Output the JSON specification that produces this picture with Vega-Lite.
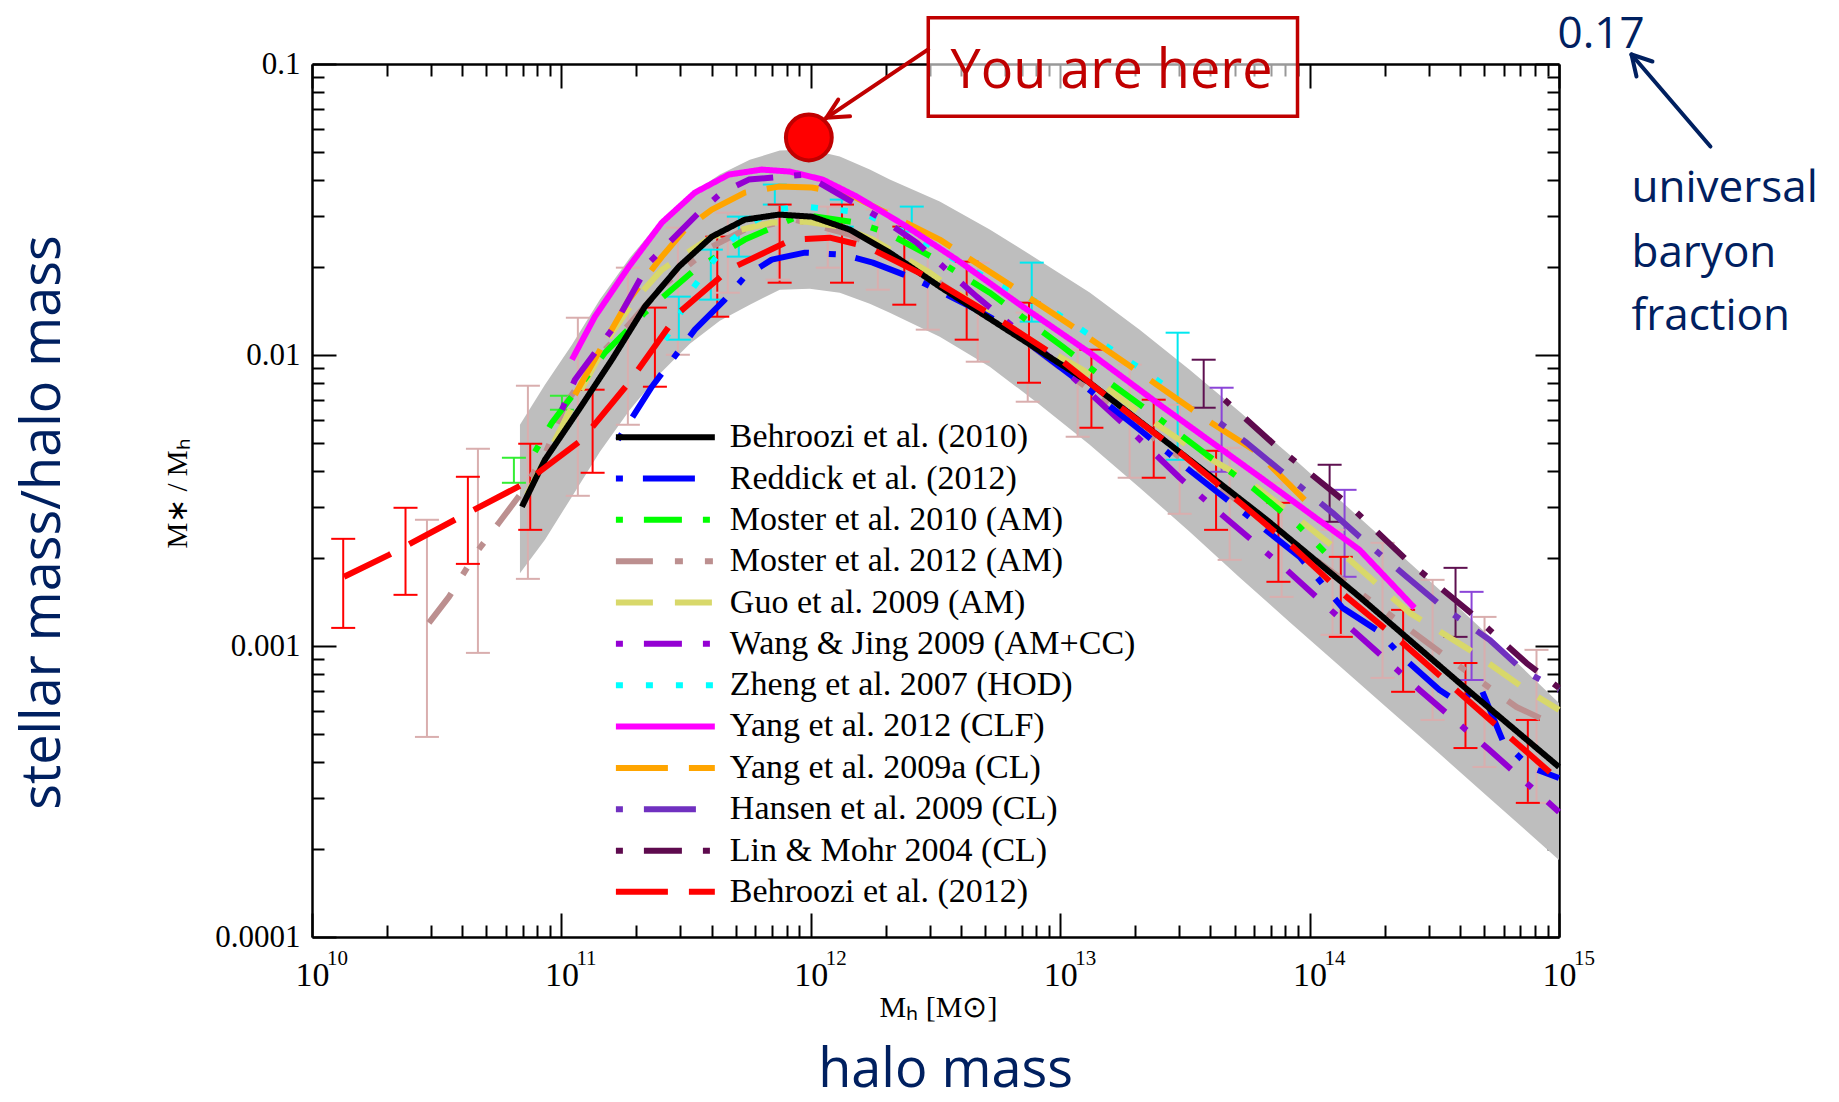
{
"$schema": "https://vega.github.io/schema/vega-lite/v6.json",
"width": 1247, "height": 873,
"autosize": {"type": "none"},
"padding": {"left": 312, "top": 64, "right": 280, "bottom": 165},
"background": "white",
"config": {
  "view": {"stroke": null},
  "axis": {"grid": false, "domain": false, "tickColor": "black", "tickWidth": 2, "labelFont": "Liberation Serif", "labelColor": "black", "labelFlush": false, "labelOverlap": false, "zindex": 1, "titleFontWeight": "normal", "titleColor": "black", "titleFont": "Liberation Serif"}
},
"datasets": {
  "band": [
    {"x":6.82e10,"lo":0.00178,"hi":0.00576},{"x":8.59e10,"lo":0.00232,"hi":0.00791},{"x":1.102e11,"lo":0.00326,"hi":0.01085},{"x":1.427e11,"lo":0.00465,"hi":0.0155},{"x":1.882e11,"lo":0.00649,"hi":0.0216},{"x":2.482e11,"lo":0.00862,"hi":0.0287},{"x":3.273e11,"lo":0.01094,"hi":0.0356},{"x":4.318e11,"lo":0.01312,"hi":0.0417},{"x":5.694e11,"lo":0.01489,"hi":0.0469},{"x":7.51e11,"lo":0.01677,"hi":0.0504},{"x":9.91e11,"lo":0.0169,"hi":0.0508},{"x":1.307e12,"lo":0.01637,"hi":0.0481},{"x":1.724e12,"lo":0.01501,"hi":0.0434},{"x":2.073e12,"lo":0.01398,"hi":0.0401},{"x":3.289e12,"lo":0.01156,"hi":0.0337},{"x":5.218e12,"lo":0.00912,"hi":0.027},{"x":8.28e12,"lo":0.00675,"hi":0.0211},{"x":1.313e13,"lo":0.00492,"hi":0.0164},{"x":2.083e13,"lo":0.0035,"hi":0.0122},{"x":3.304e13,"lo":0.00247,"hi":0.0089},{"x":5.242e13,"lo":0.00172,"hi":0.00638},{"x":8.31e13,"lo":0.00121,"hi":0.00454},{"x":1.319e14,"lo":0.000854,"hi":0.00318},{"x":2.092e14,"lo":0.000603,"hi":0.00223},{"x":3.319e14,"lo":0.000426,"hi":0.00156},{"x":5.265e14,"lo":0.0003,"hi":0.00108},{"x":1e15,"lo":0.000184,"hi":0.000637}
  ],
  "ebars": [
    {"g":"brown","x":2.89e10,"lo":0.000487,"hi":0.002715},{"g":"brown","x":4.627e10,"lo":0.000947,"hi":0.004762},{"g":"brown","x":7.34e10,"lo":0.001701,"hi":0.007842},{"g":"brown","x":1.164e11,"lo":0.003282,"hi":0.01343},{"g":"brown","x":1.847e11,"lo":0.005758,"hi":0.01996},{"g":"brown","x":2.931e11,"lo":0.01002,"hi":0.0274},{"g":"brown","x":4.649e11,"lo":0.01637,"hi":0.03085},{"g":"brown","x":7.372e11,"lo":0.01815,"hi":0.03288},{"g":"brown","x":1.17e12,"lo":0.01996,"hi":0.03236},{"g":"brown","x":1.856e12,"lo":0.01677,"hi":0.0316},{"g":"brown","x":2.944e12,"lo":0.01222,"hi":0.02492},{"g":"brown","x":4.671e12,"lo":0.009484,"hi":0.02077},{"g":"brown","x":7.41e12,"lo":0.00691,"hi":0.01398},{"g":"brown","x":1.175e13,"lo":0.005237,"hi":0.01043},{"g":"brown","x":1.899e13,"lo":0.003786,"hi":0.009262},{"g":"brown","x":3.013e13,"lo":0.002846,"hi":0.006748},{"g":"brown","x":4.779e13,"lo":0.001977,"hi":0.0048},{"g":"brown","x":7.722e13,"lo":0.001475,"hi":0.003638},{"g":"brown","x":1.236e14,"lo":0.001092,"hi":0.002507},{"g":"brown","x":1.961e14,"lo":0.000777,"hi":0.002262},{"g":"brown","x":3.112e14,"lo":0.000557,"hi":0.001688},{"g":"brown","x":5.028e14,"lo":0.000384,"hi":0.001259},{"g":"brown","x":8.124e14,"lo":0.000289,"hi":0.00097},
    {"g":"green","x":6.45e10,"lo":0.003638,"hi":0.004435},{"g":"green","x":1.005e11,"lo":0.006485,"hi":0.007244},
    {"g":"cyan","x":2.957e11,"lo":0.01129,"hi":0.01587},{"g":"cyan","x":3.973e11,"lo":0.0155,"hi":0.02302},{"g":"cyan","x":5.145e11,"lo":0.02178,"hi":0.02989},{"g":"cyan","x":7.173e11,"lo":0.03288,"hi":0.03852},{"g":"cyan","x":1.331e12,"lo":0.02762,"hi":0.0342},{"g":"cyan","x":2.54e12,"lo":0.02655,"hi":0.03236},{"g":"cyan","x":7.689e12,"lo":0.01302,"hi":0.02077},{"g":"cyan","x":2.957e13,"lo":0.004365,"hi":0.01193},
    {"g":"maroon","x":3.761e13,"lo":0.006589,"hi":0.009634},{"g":"maroon","x":1.203e14,"lo":0.002672,"hi":0.004196},{"g":"maroon","x":3.847e14,"lo":0.001075,"hi":0.001856},
    {"g":"violet","x":4.439e13,"lo":0.003969,"hi":0.007719},{"g":"violet","x":1.381e14,"lo":0.001729,"hi":0.003441},{"g":"violet","x":4.461e14,"lo":0.000764,"hi":0.001535},
    {"g":"red","x":1.334e10,"lo":0.001154,"hi":0.002335},{"g":"red","x":2.371e10,"lo":0.001499,"hi":0.002985},{"g":"red","x":4.217e10,"lo":0.001915,"hi":0.003815},{"g":"red","x":7.499e10,"lo":0.002507,"hi":0.004955},{"g":"red","x":1.334e11,"lo":0.003938,"hi":0.007599},{"g":"red","x":2.371e11,"lo":0.00778,"hi":0.01455},{"g":"red","x":4.217e11,"lo":0.01354,"hi":0.02551},{"g":"red","x":7.499e11,"lo":0.01772,"hi":0.03288},{"g":"red","x":1.334e12,"lo":0.01772,"hi":0.03288},{"g":"red","x":2.371e12,"lo":0.01489,"hi":0.02762},{"g":"red","x":4.217e12,"lo":0.01129,"hi":0.02093},{"g":"red","x":7.499e12,"lo":0.00803,"hi":0.01513},{"g":"red","x":1.334e13,"lo":0.005623,"hi":0.01043},{"g":"red","x":2.371e13,"lo":0.003786,"hi":0.00702},{"g":"red","x":4.217e13,"lo":0.002507,"hi":0.004687},{"g":"red","x":7.499e13,"lo":0.001662,"hi":0.003105},{"g":"red","x":1.334e14,"lo":0.001075,"hi":0.002025},{"g":"red","x":2.371e14,"lo":0.000696,"hi":0.001331},{"g":"red","x":4.217e14,"lo":0.000446,"hi":0.000874},{"g":"red","x":7.499e14,"lo":0.000289,"hi":0.000557}
  ],
  "curves": [
    {"s":"M12","x":2.944e10,"y":0.001201},{"s":"M12","x":3.541e10,"y":0.001475},{"s":"M12","x":4.585e10,"y":0.002107},{"s":"M12","x":5.617e10,"y":0.002651},{"s":"M12","x":6.82e10,"y":0.003308},{"s":"M12","x":8.59e10,"y":0.004543},{"s":"M12","x":1.033e11,"y":0.006748},{"s":"M12","x":1.427e11,"y":0.01002},{"s":"M12","x":1.865e11,"y":0.01271},{"s":"M12","x":2.528e11,"y":0.01717},{"s":"M12","x":4.01e11,"y":0.02358},{"s":"M12","x":5.44e11,"y":0.02697},{"s":"M12","x":8.629e11,"y":0.02919},{"s":"M12","x":1.433e12,"y":0.02592},{"s":"M12","x":2.734e12,"y":0.01965},{"s":"M12","x":6.276e12,"y":0.01222},{"s":"M12","x":1.899e13,"y":0.005991},{"s":"M12","x":5.748e13,"y":0.002938},{"s":"M12","x":8.55e13,"y":0.002262},{"s":"M12","x":2.232e14,"y":0.00123},{"s":"M12","x":3.541e14,"y":0.000917},{"s":"M12","x":6.753e14,"y":0.000617},{"s":"M12","x":1e15,"y":0.000527},
    {"s":"G09","x":7.272e10,"y":0.003308},{"s":"G09","x":8.59e10,"y":0.004365},{"s":"G09","x":1.072e11,"y":0.006331},{"s":"G09","x":1.594e11,"y":0.01193},{"s":"G09","x":1.97e11,"y":0.0155},{"s":"G09","x":2.528e11,"y":0.01965},{"s":"G09","x":4.01e11,"y":0.02551},{"s":"G09","x":6.977e11,"y":0.02851},{"s":"G09","x":9.463e11,"y":0.02873},{"s":"G09","x":1.307e12,"y":0.02762},{"s":"G09","x":1.772e12,"y":0.02492},{"s":"G09","x":2.999e12,"y":0.01919},{"s":"G09","x":4.628e12,"y":0.01466},{"s":"G09","x":7.549e12,"y":0.01129},{"s":"G09","x":1.231e13,"y":0.008899},{"s":"G09","x":2.083e13,"y":0.006331},{"s":"G09","x":3.304e13,"y":0.004838},{"s":"G09","x":5.591e13,"y":0.003726},{"s":"G09","x":9.12e13,"y":0.002715},{"s":"G09","x":1.446e14,"y":0.001977},{"s":"G09","x":2.517e14,"y":0.0013},{"s":"G09","x":4.379e14,"y":0.00097},{"s":"G09","x":7.408e14,"y":0.000706},{"s":"G09","x":1e15,"y":0.000603},
    {"s":"M10","x":7.832e10,"y":0.00465},{"s":"M10","x":9.16e10,"y":0.005851},{"s":"M10","x":1.494e11,"y":0.01018},{"s":"M10","x":2.161e11,"y":0.01398},{"s":"M10","x":3.428e11,"y":0.01965},{"s":"M10","x":5.44e11,"y":0.02492},{"s":"M10","x":9.203e11,"y":0.03037},{"s":"M10","x":1.529e12,"y":0.02851},{"s":"M10","x":2.016e12,"y":0.02634},{"s":"M10","x":3.199e12,"y":0.02127},{"s":"M10","x":5.218e12,"y":0.01637},{"s":"M10","x":1.023e13,"y":0.01068},{"s":"M10","x":1.579e13,"y":0.00803},{"s":"M10","x":2.437e13,"y":0.006135},{"s":"M10","x":3.866e13,"y":0.004543},{"s":"M10","x":5.908e13,"y":0.003497},{"s":"M10","x":9.12e13,"y":0.002568},{"s":"M10","x":1.148e14,"y":0.002107},
    {"s":"Z07","x":2.598e11,"y":0.01129},{"s":"Z07","x":2.957e11,"y":0.01354},{"s":"Z07","x":3.334e11,"y":0.01677},{"s":"Z07","x":4.01e11,"y":0.02077},{"s":"Z07","x":4.692e11,"y":0.02433},{"s":"Z07","x":5.8e11,"y":0.02851},{"s":"Z07","x":7.173e11,"y":0.0316},{"s":"Z07","x":9.463e11,"y":0.03236},{"s":"Z07","x":1.616e12,"y":0.03085},{"s":"Z07","x":2.734e12,"y":0.02492},{"s":"Z07","x":5.218e12,"y":0.01815},{"s":"Z07","x":8.829e12,"y":0.01466},{"s":"Z07","x":1.401e13,"y":0.01129},{"s":"Z07","x":2.284e13,"y":0.008555},{"s":"Z07","x":2.877e13,"y":0.007421},
    {"s":"Y09","x":1.133e11,"y":0.007304},{"s":"Y09","x":1.453e11,"y":0.01068},{"s":"Y09","x":1.865e11,"y":0.0155},{"s":"Y09","x":2.528e11,"y":0.02178},{"s":"Y09","x":3.126e11,"y":0.02697},{"s":"Y09","x":4.01e11,"y":0.0316},{"s":"Y09","x":5.44e11,"y":0.03615},{"s":"Y09","x":7.44e11,"y":0.03791},{"s":"Y09","x":1.009e12,"y":0.03762},{"s":"Y09","x":1.433e12,"y":0.03558},{"s":"Y09","x":1.891e12,"y":0.0316},{"s":"Y09","x":3.289e12,"y":0.02492},{"s":"Y09","x":6.105e12,"y":0.01772},{"s":"Y09","x":1.122e13,"y":0.01252},{"s":"Y09","x":2.083e13,"y":0.00869},{"s":"Y09","x":3.866e13,"y":0.005991},{"s":"Y09","x":6.131e13,"y":0.00465},{"s":"Y09","x":9.55e13,"y":0.00318},
    {"s":"Y12","x":1.102e11,"y":0.009634},{"s":"Y12","x":1.362e11,"y":0.01354},{"s":"Y12","x":1.865e11,"y":0.02012},{"s":"Y12","x":2.528e11,"y":0.02851},{"s":"Y12","x":3.428e11,"y":0.03615},{"s":"Y12","x":4.692e11,"y":0.04169},{"s":"Y12","x":6.362e11,"y":0.04337},{"s":"Y12","x":8.237e11,"y":0.04269},{"s":"Y12","x":1.117e12,"y":0.04007},{"s":"Y12","x":1.529e12,"y":0.03503},{"s":"Y12","x":2.425e12,"y":0.02762},{"s":"Y12","x":3.847e12,"y":0.02127},{"s":"Y12","x":7.074e12,"y":0.01466},{"s":"Y12","x":1.313e13,"y":0.01018},{"s":"Y12","x":2.505e13,"y":0.006748},{"s":"Y12","x":6.302e13,"y":0.003815},{"s":"Y12","x":1.586e14,"y":0.00214},{"s":"Y12","x":2.635e14,"y":0.001352},
    {"s":"WJ09","x":1.005e11,"y":0.006485},{"s":"WJ09","x":1.133e11,"y":0.008225},{"s":"WJ09","x":1.594e11,"y":0.01222},{"s":"WJ09","x":2.263e11,"y":0.0209},{"s":"WJ09","x":3.557e11,"y":0.03085},{"s":"WJ09","x":4.398e11,"y":0.03615},{"s":"WJ09","x":5.642e11,"y":0.04007},{"s":"WJ09","x":9.463e11,"y":0.04169},{"s":"WJ09","x":1.944e12,"y":0.02919},{"s":"WJ09","x":2.659e12,"y":0.02433},{"s":"WJ09","x":3.606e12,"y":0.01919},{"s":"WJ09","x":4.628e12,"y":0.01587},{"s":"WJ09","x":9.68e12,"y":0.009408},{"s":"WJ09","x":1.847e13,"y":0.005668},{"s":"WJ09","x":3.013e13,"y":0.003786},{"s":"WJ09","x":4.358e13,"y":0.002869},{"s":"WJ09","x":8.087e13,"y":0.001827},{"s":"WJ09","x":1.487e14,"y":0.001136},{"s":"WJ09","x":2.76e14,"y":0.000706},{"s":"WJ09","x":5.265e14,"y":0.000439},{"s":"WJ09","x":1e15,"y":0.000269},
    {"s":"R12","x":1.685e11,"y":0.005114},{"s":"R12","x":2.305e11,"y":0.00778},{"s":"R12","x":3.428e11,"y":0.01222},{"s":"R12","x":4.523e11,"y":0.0155},{"s":"R12","x":5.44e11,"y":0.0186},{"s":"R12","x":6.977e11,"y":0.02127},{"s":"R12","x":9.463e11,"y":0.02248},{"s":"R12","x":1.344e12,"y":0.02213},{"s":"R12","x":1.772e12,"y":0.02077},{"s":"R12","x":2.659e12,"y":0.01815},{"s":"R12","x":4.628e12,"y":0.01431},{"s":"R12","x":6.105e12,"y":0.01252},{"s":"R12","x":1.122e13,"y":0.008421},{"s":"R12","x":2.083e13,"y":0.005535},{"s":"R12","x":3.398e13,"y":0.003938},{"s":"R12","x":5.591e13,"y":0.002824},{"s":"R12","x":9.12e13,"y":0.002025},{"s":"R12","x":1.356e14,"y":0.001352},{"s":"R12","x":1.856e14,"y":0.001136},{"s":"R12","x":2.359e14,"y":0.000917},{"s":"R12","x":3.319e14,"y":0.000706},{"s":"R12","x":3.992e14,"y":0.000637},{"s":"R12","x":4.802e14,"y":0.000735},{"s":"R12","x":5.936e14,"y":0.000475},{"s":"R12","x":7.617e14,"y":0.000384},{"s":"R12","x":1e15,"y":0.000352},
    {"s":"H09","x":4.358e13,"y":0.005851},{"s":"H09","x":5.591e13,"y":0.004994},{"s":"H09","x":7.583e13,"y":0.004033},{"s":"H09","x":1.236e14,"y":0.002869},{"s":"H09","x":1.586e14,"y":0.002372},{"s":"H09","x":2.448e14,"y":0.001729},{"s":"H09","x":3.413e14,"y":0.001363},{"s":"H09","x":5.265e14,"y":0.00105},{"s":"H09","x":7.141e14,"y":0.000827},{"s":"H09","x":1e15,"y":0.000706},
    {"s":"LM04","x":4.563e13,"y":0.00702},{"s":"LM04","x":7.239e13,"y":0.004915},{"s":"LM04","x":1.407e14,"y":0.003105},{"s":"LM04","x":2.448e14,"y":0.001977},{"s":"LM04","x":4.379e14,"y":0.00131},{"s":"LM04","x":7.408e14,"y":0.000874},{"s":"LM04","x":1e15,"y":0.000718},
    {"s":"B10","x":6.945e10,"y":0.003009},{"s":"B10","x":8.59e10,"y":0.004365},{"s":"B10","x":1.175e11,"y":0.006485},{"s":"B10","x":1.594e11,"y":0.009634},{"s":"B10","x":2.161e11,"y":0.01466},{"s":"B10","x":2.957e11,"y":0.02012},{"s":"B10","x":4.01e11,"y":0.02551},{"s":"B10","x":5.44e11,"y":0.02919},{"s":"B10","x":7.44e11,"y":0.03037},{"s":"B10","x":1.009e12,"y":0.02989},{"s":"B10","x":1.433e12,"y":0.02697},{"s":"B10","x":2.073e12,"y":0.02248},{"s":"B10","x":3.289e12,"y":0.01717},{"s":"B10","x":6.105e12,"y":0.01222},{"s":"B10","x":1.313e13,"y":0.00803},{"s":"B10","x":3.304e13,"y":0.004365},{"s":"B10","x":6.726e13,"y":0.002715},{"s":"B10","x":1.586e14,"y":0.001475},{"s":"B10","x":3.992e14,"y":0.000746},{"s":"B10","x":1e15,"y":0.000384},
    {"s":"B12","x":1.344e10,"y":0.001729},{"s":"B12","x":2.035e10,"y":0.002057},{"s":"B12","x":3.742e10,"y":0.002715},{"s":"B12","x":6.945e10,"y":0.003581},{"s":"B12","x":1.208e11,"y":0.005114},{"s":"B12","x":1.865e11,"y":0.00803},{"s":"B12","x":2.957e11,"y":0.01398},{"s":"B12","x":4.692e11,"y":0.01965},{"s":"B12","x":8.39e11,"y":0.02492},{"s":"B12","x":1.192e12,"y":0.02531},{"s":"B12","x":1.676e12,"y":0.02358},{"s":"B12","x":3.083e12,"y":0.01815},{"s":"B12","x":5.721e12,"y":0.01322},{"s":"B12","x":9.68e12,"y":0.009867},{"s":"B12","x":1.732e13,"y":0.006644},{"s":"B12","x":2.931e13,"y":0.004724},{"s":"B12","x":5.099e13,"y":0.00318},{"s":"B12","x":8.55e13,"y":0.002192},{"s":"B12","x":1.407e14,"y":0.001475},{"s":"B12","x":2.359e14,"y":0.001025},{"s":"B12","x":3.992e14,"y":0.00069},{"s":"B12","x":6.753e14,"y":0.000464},{"s":"B12","x":1e15,"y":0.000346}
  ],
  "legend": [
    {"s":"B10","label":"Behroozi et al. (2010)","x":1.654e11,"x2":4.123e11,"tx":4.736e11,"y":0.005216},
    {"s":"R12","label":"Reddick et al. (2012)","x":1.654e11,"x2":4.123e11,"tx":4.736e11,"y":0.003762},
    {"s":"M10","label":"Moster et al. 2010 (AM)","x":1.654e11,"x2":4.123e11,"tx":4.736e11,"y":0.002713},
    {"s":"M12","label":"Moster et al. 2012 (AM)","x":1.654e11,"x2":4.123e11,"tx":4.736e11,"y":0.001956},
    {"s":"G09","label":"Guo et al. 2009 (AM)","x":1.654e11,"x2":4.123e11,"tx":4.736e11,"y":0.00141},
    {"s":"WJ09","label":"Wang & Jing 2009 (AM+CC)","x":1.654e11,"x2":4.123e11,"tx":4.736e11,"y":0.001017},
    {"s":"Z07","label":"Zheng et al. 2007 (HOD)","x":1.654e11,"x2":4.123e11,"tx":4.736e11,"y":0.000733},
    {"s":"Y12","label":"Yang et al. 2012 (CLF)","x":1.654e11,"x2":4.123e11,"tx":4.736e11,"y":0.000529},
    {"s":"Y09","label":"Yang et al. 2009a (CL)","x":1.654e11,"x2":4.123e11,"tx":4.736e11,"y":0.000381},
    {"s":"H09","label":"Hansen et al. 2009 (CL)","x":1.654e11,"x2":4.123e11,"tx":4.736e11,"y":0.000275},
    {"s":"LM04","label":"Lin & Mohr 2004 (CL)","x":1.654e11,"x2":4.123e11,"tx":4.736e11,"y":0.000198},
    {"s":"B12","label":"Behroozi et al. (2012)","x":1.654e11,"x2":4.123e11,"tx":4.736e11,"y":0.000143}
  ],
  "exps": [
    {"e":"10","x":1.1485e10,"y":8.0e-5},{"e":"11","x":1.1485e11,"y":8.0e-5},{"e":"12","x":1.1485e12,"y":8.0e-5},{"e":"13","x":1.1485e13,"y":8.0e-5},{"e":"14","x":1.1485e14,"y":8.0e-5},{"e":"15","x":1.1485e15,"y":8.0e-5}
  ],
  "box": [{"x":2.958e12,"x2":8.944e13,"y":0.06613,"y2":0.1442}],
  "here": [{"t":"You are here","x":1.607e13,"y":0.083}],
  "dot": [{"x":9.82e11,"y":0.0559}],
  "arrows": [
    {"a":"red","x":2.957e12,"y":0.1122,"x2":1.154e12,"y2":0.06531},
    {"a":"red","x":1.154e12,"y":0.06531,"x2":1.288e12,"y2":0.07548},
    {"a":"red","x":1.154e12,"y":0.06531,"x2":1.437e12,"y2":0.06613},
    {"a":"navy","x":4.048e15,"y":0.05203,"x2":1.953e15,"y2":0.1078},
    {"a":"navy","x":1.953e15,"y":0.1078,"x2":2.045e15,"y2":0.09057},
    {"a":"navy","x":1.953e15,"y":0.1078,"x2":2.37e15,"y2":0.102}
  ],
  "navy": [
    {"t":"0.17","x":9.87e14,"y":0.1139},
    {"t":"universal","x":1.953e15,"y":0.03367},
    {"t":"baryon","x":1.953e15,"y":0.02012},
    {"t":"fraction","x":1.953e15,"y":0.01222}
  ]
},
"resolve": {"axis": {"x": "independent", "y": "independent"}, "scale": {"color": "independent"}},
"layer": [
  {
    "data": {"name": "band"},
    "mark": {"type": "area", "color": "#BEBEBE", "opacity": 1},
    "encoding": {
      "x": {"field": "x", "type": "quantitative", "scale": {"type": "log", "domain": [1e10, 1e15], "nice": false},
        "axis": {"orient": "bottom", "values": [1e10, 1e11, 1e12, 1e13, 1e14, 1e15], "tickSize": -24, "domain": true, "domainColor": "black", "domainWidth": 2.5, "labelFontSize": 34, "labelPadding": 45, "labelDx": -8,
          "labelExpr": "'10'",
          "title": "Mₕ [M⊙]", "titleFontSize": 30, "titleX": 626, "titleY": 79, "titleAlign": "center", "titleBaseline": "alphabetic", "titleAngle": 0}},
      "y": {"field": "lo", "type": "quantitative", "scale": {"type": "log", "domain": [0.0001, 0.1], "nice": false},
        "axis": {"orient": "left", "values": [0.0001, 0.001, 0.01, 0.1], "tickSize": -24, "domain": true, "domainColor": "black", "domainWidth": 2.5, "format": "~g", "labelFontSize": 31, "labelPadding": 36,
          "title": "M∗ / Mₕ", "titleFontSize": 29, "titleX": -126, "titleY": 429, "titleAngle": -90, "titleAlign": "center", "titleBaseline": "alphabetic"}},
      "y2": {"field": "hi"}
    }
  },
  {
    "data": {"name": "ebars"},
    "mark": {"type": "rule", "strokeWidth": 2},
    "encoding": {
      "x": {"field": "x", "type": "quantitative", "scale": {"type": "log", "domain": [1e10, 1e15], "nice": false},
        "axis": {"orient": "bottom", "values": [2e10,3e10,4e10,5e10,6e10,7e10,8e10,9e10,2e11,3e11,4e11,5e11,6e11,7e11,8e11,9e11,2e12,3e12,4e12,5e12,6e12,7e12,8e12,9e12,2e13,3e13,4e13,5e13,6e13,7e13,8e13,9e13,2e14,3e14,4e14,5e14,6e14,7e14,8e14,9e14], "tickSize": -12, "labels": false, "domain": false,
          "title": "halo mass", "titleFont": "Open Sans", "titleFontSize": 54, "titleColor": "#002060", "titleX": 633, "titleY": 149, "titleAlign": "center", "titleBaseline": "alphabetic", "titleAngle": 0}},
      "y": {"field": "lo", "type": "quantitative", "scale": {"type": "log", "domain": [0.0001, 0.1], "nice": false},
        "axis": {"orient": "left", "values": [2e-4,3e-4,4e-4,5e-4,6e-4,7e-4,8e-4,9e-4,0.002,0.003,0.004,0.005,0.006,0.007,0.008,0.009,0.02,0.03,0.04,0.05,0.06,0.07,0.08,0.09], "tickSize": -12, "labels": false, "domain": false,
          "title": "stellar mass/halo mass", "titleFont": "Open Sans", "titleFontSize": 54, "titleColor": "#002060", "titleX": -253, "titleY": 458, "titleAngle": -90, "titleAlign": "center", "titleBaseline": "alphabetic"}},
      "y2": {"field": "hi"},
      "color": {"field": "g", "type": "nominal", "scale": {"domain": ["brown","green","cyan","maroon","violet","red"], "range": ["#D9AEAE","#33EE33","#00E8F0","#5E1050","#8B45D8","#FF0000"]}, "legend": null}
    }
  },
  {
    "data": {"name": "ebars"},
    "transform": [{"fold": ["lo", "hi"], "as": ["end", "v"]}],
    "mark": {"type": "point", "shape": "stroke", "size": 576, "strokeWidth": 2, "filled": false, "opacity": 1},
    "encoding": {
      "x": {"field": "x", "type": "quantitative", "scale": {"type": "log", "domain": [1e10, 1e15], "nice": false},
        "axis": {"orient": "top", "values": [1e10, 1e11, 1e12, 1e13, 1e14, 1e15], "tickSize": -24, "labels": false, "domain": true, "domainColor": "black", "domainWidth": 2.5, "title": null}},
      "y": {"field": "v", "type": "quantitative", "scale": {"type": "log", "domain": [0.0001, 0.1], "nice": false},
        "axis": {"orient": "right", "values": [0.0001, 0.001, 0.01, 0.1], "tickSize": -24, "labels": false, "domain": true, "domainColor": "black", "domainWidth": 2.5, "title": null}},
      "color": {"field": "g", "type": "nominal", "scale": {"domain": ["brown","green","cyan","maroon","violet","red"], "range": ["#D9AEAE","#33EE33","#00E8F0","#5E1050","#8B45D8","#FF0000"]}, "legend": null}
    }
  },
  {
    "data": {"name": "curves"},
    "mark": {"type": "line", "strokeWidth": 6, "strokeCap": "butt", "strokeJoin": "round"},
    "encoding": {
      "x": {"field": "x", "type": "quantitative", "scale": {"type": "log", "domain": [1e10, 1e15], "nice": false},
        "axis": {"orient": "top", "values": [2e10,3e10,4e10,5e10,6e10,7e10,8e10,9e10,2e11,3e11,4e11,5e11,6e11,7e11,8e11,9e11,2e12,3e12,4e12,5e12,6e12,7e12,8e12,9e12,2e13,3e13,4e13,5e13,6e13,7e13,8e13,9e13,2e14,3e14,4e14,5e14,6e14,7e14,8e14,9e14], "tickSize": -12, "labels": false, "domain": false, "title": null}},
      "y": {"field": "y", "type": "quantitative", "scale": {"type": "log", "domain": [0.0001, 0.1], "nice": false},
        "axis": {"orient": "right", "values": [2e-4,3e-4,4e-4,5e-4,6e-4,7e-4,8e-4,9e-4,0.002,0.003,0.004,0.005,0.006,0.007,0.008,0.009,0.02,0.03,0.04,0.05,0.06,0.07,0.08,0.09], "tickSize": -12, "labels": false, "domain": false, "title": null}},
      "color": {"field": "s", "type": "nominal", "scale": {"domain": ["B10","R12","M10","M12","G09","WJ09","Z07","Y12","Y09","H09","LM04","B12"], "range": ["#000000","#0000FF","#00FF00","#BC8F8F","#D8D86A","#9400D3","#00FFFF","#FF00FF","#FFA500","#7030C0","#5E0A4E","#FF0000"]}, "legend": null},
      "strokeDash": {"field": "s", "type": "nominal", "scale": {"domain": ["B10","R12","M10","M12","G09","WJ09","Z07","Y12","Y09","H09","LM04","B12"], "range": [[1,0],[7,20,52,20],[7,21,38,21],[37,22,8,22,8,22],[37,22],[7,21,38,21],[7,23],[1,0],[52,21],[7,21,52,21],[7,21,38,21],[52,21]]}, "legend": null}
    }
  },
  {
    "data": {"name": "legend"},
    "mark": {"type": "rule", "strokeWidth": 6, "strokeCap": "butt"},
    "encoding": {
      "x": {"field": "x", "type": "quantitative", "scale": {"type": "log", "domain": [1e10, 1e15], "nice": false}, "axis": null},
      "x2": {"field": "x2"},
      "y": {"field": "y", "type": "quantitative", "scale": {"type": "log", "domain": [0.0001, 0.1], "nice": false}, "axis": null},
      "color": {"field": "s", "type": "nominal", "scale": {"domain": ["B10","R12","M10","M12","G09","WJ09","Z07","Y12","Y09","H09","LM04","B12"], "range": ["#000000","#0000FF","#00FF00","#BC8F8F","#D8D86A","#9400D3","#00FFFF","#FF00FF","#FFA500","#7030C0","#5E0A4E","#FF0000"]}, "legend": null},
      "strokeDash": {"field": "s", "type": "nominal", "scale": {"domain": ["B10","R12","M10","M12","G09","WJ09","Z07","Y12","Y09","H09","LM04","B12"], "range": [[1,0],[7,20,52,20],[7,21,38,21],[37,22,8,22,8,22],[37,22],[7,21,38,21],[7,23],[1,0],[52,21],[7,21,52,21],[7,21,38,21],[52,21]]}, "legend": null}
    }
  },
  {
    "data": {"name": "legend"},
    "mark": {"type": "text", "align": "left", "baseline": "middle", "font": "Liberation Serif", "fontSize": 34, "color": "black"},
    "encoding": {
      "x": {"field": "tx", "type": "quantitative", "scale": {"type": "log", "domain": [1e10, 1e15], "nice": false}, "axis": null},
      "y": {"field": "y", "type": "quantitative", "scale": {"type": "log", "domain": [0.0001, 0.1], "nice": false}, "axis": null},
      "text": {"field": "label"}
    }
  },
  {
    "data": {"name": "exps"},
    "mark": {"type": "text", "align": "left", "baseline": "alphabetic", "font": "Liberation Serif", "fontSize": 21, "color": "black"},
    "encoding": {
      "x": {"field": "x", "type": "quantitative", "scale": {"type": "log", "domain": [1e10, 1e15], "nice": false}, "axis": null},
      "y": {"field": "y", "type": "quantitative", "scale": {"type": "log", "domain": [0.0001, 0.1], "nice": false}, "axis": null},
      "text": {"field": "e"}
    }
  },
  {
    "data": {"name": "box"},
    "mark": {"type": "rect", "fill": "white", "fillOpacity": 0.6, "stroke": "#C00000", "strokeWidth": 3.5},
    "encoding": {
      "x": {"field": "x", "type": "quantitative", "scale": {"type": "log", "domain": [1e10, 1e15], "nice": false}, "axis": null},
      "x2": {"field": "x2"},
      "y": {"field": "y", "type": "quantitative", "scale": {"type": "log", "domain": [0.0001, 0.1], "nice": false}, "axis": null},
      "y2": {"field": "y2"}
    }
  },
  {
    "data": {"name": "here"},
    "mark": {"type": "text", "align": "center", "baseline": "alphabetic", "font": "Open Sans", "fontSize": 54, "color": "#C00000"},
    "encoding": {
      "x": {"field": "x", "type": "quantitative", "scale": {"type": "log", "domain": [1e10, 1e15], "nice": false}, "axis": null},
      "y": {"field": "y", "type": "quantitative", "scale": {"type": "log", "domain": [0.0001, 0.1], "nice": false}, "axis": null},
      "text": {"field": "t"}
    }
  },
  {
    "data": {"name": "arrows"},
    "mark": {"type": "rule", "strokeWidth": 4, "strokeCap": "round"},
    "encoding": {
      "x": {"field": "x", "type": "quantitative", "scale": {"type": "log", "domain": [1e10, 1e15], "nice": false}, "axis": null},
      "x2": {"field": "x2"},
      "y": {"field": "y", "type": "quantitative", "scale": {"type": "log", "domain": [0.0001, 0.1], "nice": false}, "axis": null},
      "y2": {"field": "y2"},
      "color": {"field": "a", "type": "nominal", "scale": {"domain": ["red", "navy"], "range": ["#C00000", "#002060"]}, "legend": null}
    }
  },
  {
    "data": {"name": "dot"},
    "mark": {"type": "point", "shape": "circle", "filled": true, "fill": "#FF0000", "stroke": "#C00000", "strokeWidth": 4, "size": 2100, "opacity": 1},
    "encoding": {
      "x": {"field": "x", "type": "quantitative", "scale": {"type": "log", "domain": [1e10, 1e15], "nice": false}, "axis": null},
      "y": {"field": "y", "type": "quantitative", "scale": {"type": "log", "domain": [0.0001, 0.1], "nice": false}, "axis": null}
    }
  },
  {
    "data": {"name": "navy"},
    "mark": {"type": "text", "align": "left", "baseline": "alphabetic", "font": "Open Sans", "fontSize": 44, "color": "#002060"},
    "encoding": {
      "x": {"field": "x", "type": "quantitative", "scale": {"type": "log", "domain": [1e10, 1e15], "nice": false}, "axis": null},
      "y": {"field": "y", "type": "quantitative", "scale": {"type": "log", "domain": [0.0001, 0.1], "nice": false}, "axis": null},
      "text": {"field": "t"}
    }
  }
]
}
